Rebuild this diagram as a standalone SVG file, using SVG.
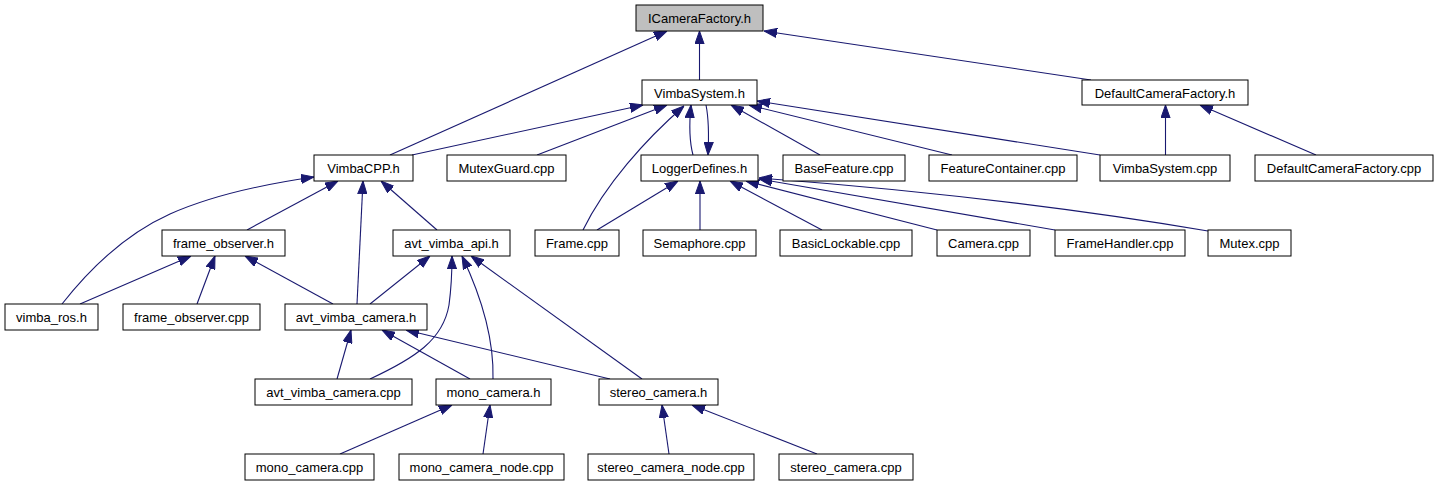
<svg xmlns="http://www.w3.org/2000/svg" width="1439" height="485" viewBox="0 0 1439 485">
<defs>
<style>
.n rect{fill:#ffffff;stroke:#000000;stroke-width:1}
.n text{font-family:"Liberation Sans",Arial,Helvetica,sans-serif;font-size:13px;text-anchor:middle;fill:#000000}
#n_icf rect{fill:#bfbfbf}
#edges path{fill:none;stroke:#191970;stroke-width:1.1;marker-end:url(#ah)}
</style>
<marker id="ah" markerUnits="userSpaceOnUse" viewBox="0 0 13 10" refX="13" refY="5" markerWidth="13" markerHeight="10" orient="auto"><path d="M0,0.4 L13,5 L0,9.6 z" fill="#191970" stroke="#191970" stroke-width="1"/></marker>
</defs>
<rect width="1439" height="485" fill="#ffffff"/>
<g id="edges">
<path d="M699.5,80 L699.5,31"/>
<path d="M390,155 L667,31"/>
<path d="M1091,80 L764,31"/>
<path d="M412,155 L643,105"/>
<path d="M537,155 L667,105"/>
<path d="M583,230 C605,185 645,140 684,106"/>
<path d="M693,155 C689,140 689,125 691,105"/>
<path d="M706,105 C709,120 709,135 708,155"/>
<path d="M820,155 L731,105"/>
<path d="M952,155 L749,105"/>
<path d="M1100,155 L757,101"/>
<path d="M1165.5,155 L1165.5,105"/>
<path d="M1316,155 L1200,105"/>
<path d="M62,304 C95,262 130,232 170,214 C215,194 265,184 314,177"/>
<path d="M247,230 L338,181"/>
<path d="M357,304 L363,181"/>
<path d="M437,230 L381,181"/>
<path d="M80,304 L191,256"/>
<path d="M197,304 L215,256"/>
<path d="M333,304 L245,256"/>
<path d="M370,304 L430,256"/>
<path d="M370,379 C415,358 443,340 449,305 C451,290 452,275 452,256"/>
<path d="M493,379 C494,340 483,300 462,256"/>
<path d="M642,379 L471,256"/>
<path d="M337,379 L351,330"/>
<path d="M470,379 L382,330"/>
<path d="M610,379 L406,330"/>
<path d="M340,454 L452,405"/>
<path d="M483,454 L490,405"/>
<path d="M669,454 L662,405"/>
<path d="M817,454 L692,405"/>
<path d="M597,230 L678,181"/>
<path d="M700,230 L700,181"/>
<path d="M822,230 L730,181"/>
<path d="M937,230 L746,181"/>
<path d="M1055,230 L759,179"/>
<path d="M1208,231 Q1000,196 759,178"/>
</g>
<g id="n_icf" class="n"><rect x="636" y="5" width="127" height="26"/><text x="699.5" y="23">ICameraFactory.h</text></g>
<g id="n_vsh" class="n"><rect x="642" y="80" width="115" height="25"/><text x="699.5" y="97.5">VimbaSystem.h</text></g>
<g id="n_dcfh" class="n"><rect x="1082" y="80" width="166" height="25"/><text x="1165" y="97.5">DefaultCameraFactory.h</text></g>
<g id="n_vcpp" class="n"><rect x="314" y="155" width="99" height="26"/><text x="363.5" y="173">VimbaCPP.h</text></g>
<g id="n_mg" class="n"><rect x="447" y="155" width="119" height="26"/><text x="506.5" y="173">MutexGuard.cpp</text></g>
<g id="n_ld" class="n"><rect x="641" y="155" width="117" height="26"/><text x="699.5" y="173">LoggerDefines.h</text></g>
<g id="n_bf" class="n"><rect x="783" y="155" width="122" height="26"/><text x="844" y="173">BaseFeature.cpp</text></g>
<g id="n_fc" class="n"><rect x="929" y="155" width="148" height="26"/><text x="1003" y="173">FeatureContainer.cpp</text></g>
<g id="n_vscpp" class="n"><rect x="1100" y="155" width="130" height="26"/><text x="1165" y="173">VimbaSystem.cpp</text></g>
<g id="n_dcfcpp" class="n"><rect x="1255" y="155" width="178" height="26"/><text x="1344" y="173">DefaultCameraFactory.cpp</text></g>
<g id="n_foh" class="n"><rect x="162" y="230" width="123" height="26"/><text x="223.5" y="248">frame_observer.h</text></g>
<g id="n_ava" class="n"><rect x="393" y="230" width="117" height="26"/><text x="451.5" y="248">avt_vimba_api.h</text></g>
<g id="n_frame" class="n"><rect x="535" y="230" width="84" height="26"/><text x="577" y="248">Frame.cpp</text></g>
<g id="n_sem" class="n"><rect x="643" y="230" width="113" height="26"/><text x="699.5" y="248">Semaphore.cpp</text></g>
<g id="n_bl" class="n"><rect x="780" y="230" width="132" height="26"/><text x="846" y="248">BasicLockable.cpp</text></g>
<g id="n_cam" class="n"><rect x="937" y="230" width="93" height="26"/><text x="983.5" y="248">Camera.cpp</text></g>
<g id="n_fh" class="n"><rect x="1055" y="230" width="130" height="26"/><text x="1120" y="248">FrameHandler.cpp</text></g>
<g id="n_mutex" class="n"><rect x="1208" y="230" width="83" height="26"/><text x="1249.5" y="248">Mutex.cpp</text></g>
<g id="n_vros" class="n"><rect x="5" y="304" width="93" height="26"/><text x="51.5" y="322">vimba_ros.h</text></g>
<g id="n_focpp" class="n"><rect x="123" y="304" width="137" height="26"/><text x="191.5" y="322">frame_observer.cpp</text></g>
<g id="n_avch" class="n"><rect x="285" y="304" width="142" height="26"/><text x="356" y="322">avt_vimba_camera.h</text></g>
<g id="n_avccpp" class="n"><rect x="255" y="379" width="157" height="26"/><text x="333.5" y="397">avt_vimba_camera.cpp</text></g>
<g id="n_mch" class="n"><rect x="436" y="379" width="115" height="26"/><text x="493.5" y="397">mono_camera.h</text></g>
<g id="n_sch" class="n"><rect x="599" y="379" width="119" height="26"/><text x="658.5" y="397">stereo_camera.h</text></g>
<g id="n_mccpp" class="n"><rect x="245" y="454" width="129" height="26"/><text x="309.5" y="472">mono_camera.cpp</text></g>
<g id="n_mcn" class="n"><rect x="399" y="454" width="165" height="26"/><text x="481.5" y="472">mono_camera_node.cpp</text></g>
<g id="n_scn" class="n"><rect x="588" y="454" width="166" height="26"/><text x="671" y="472">stereo_camera_node.cpp</text></g>
<g id="n_sccpp" class="n"><rect x="779" y="454" width="134" height="26"/><text x="846" y="472">stereo_camera.cpp</text></g>
</svg>
